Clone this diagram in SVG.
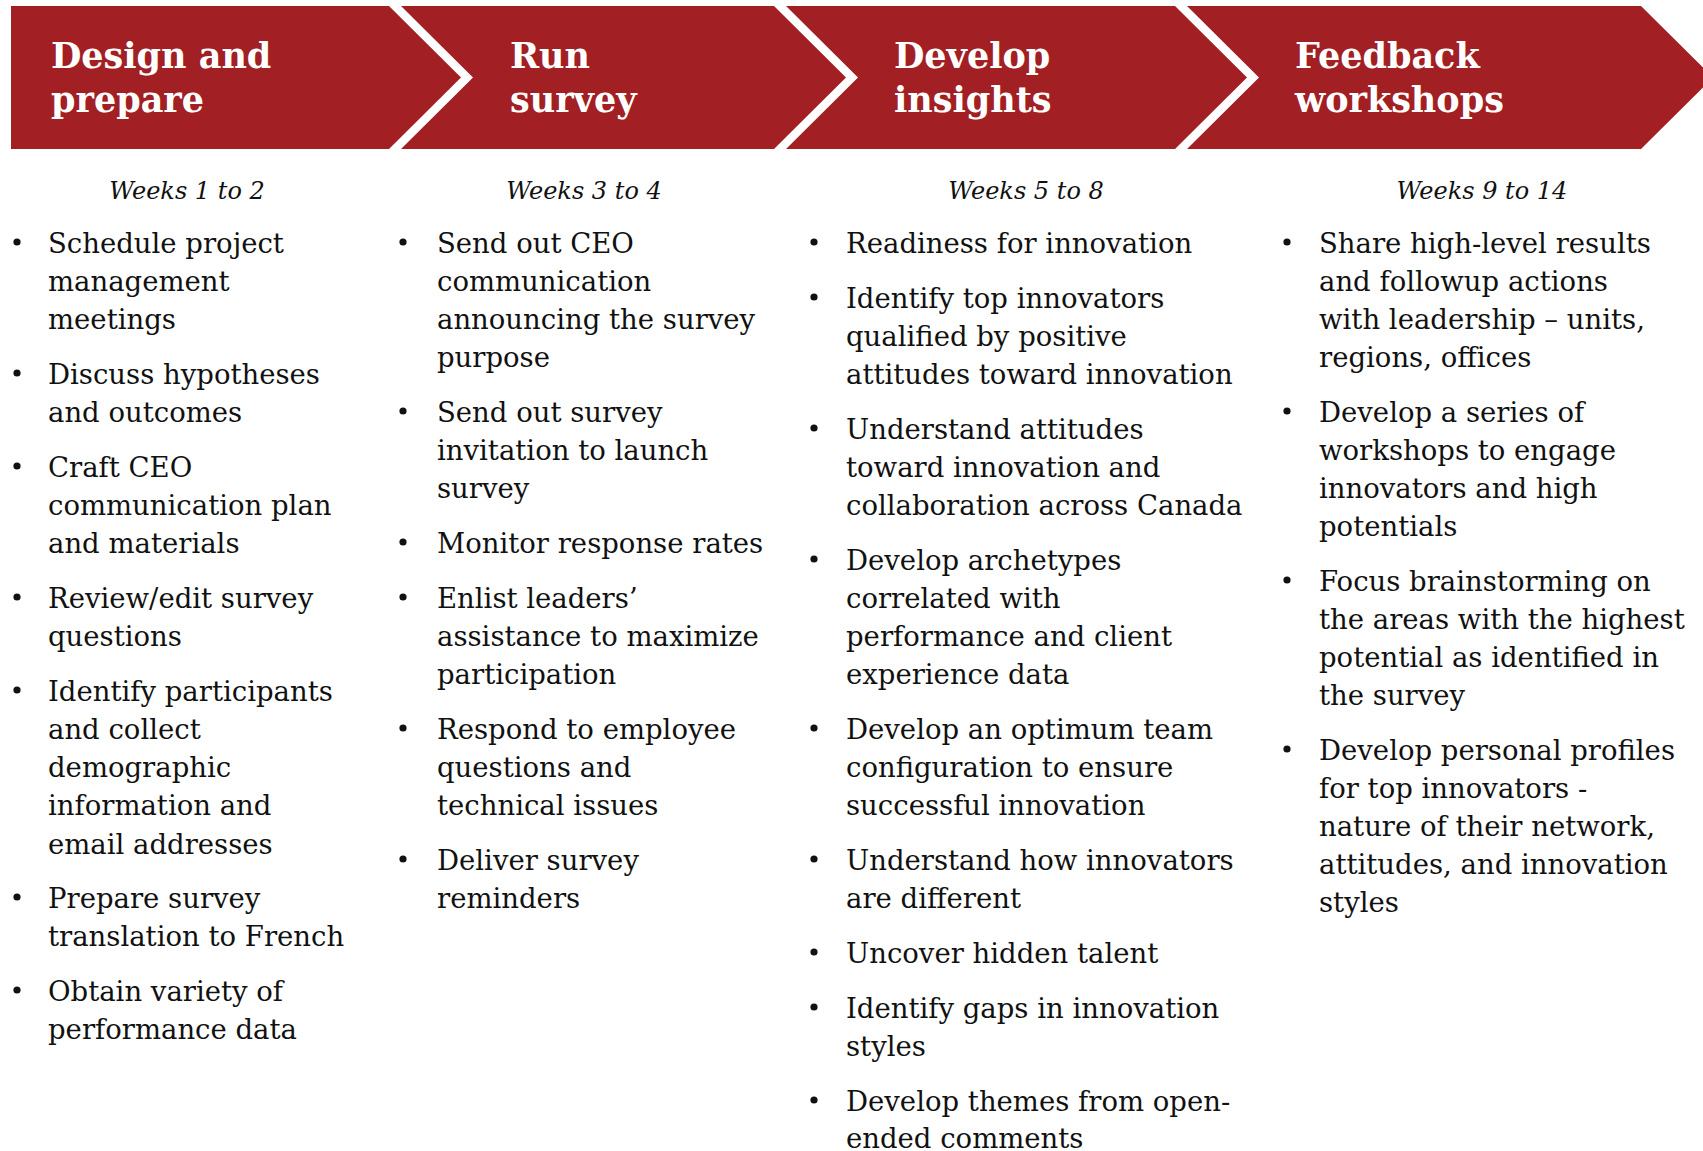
<svg xmlns="http://www.w3.org/2000/svg" width="1703" height="1151" viewBox="0 0 1703 1151">
  <style>
    .chev { fill: #A21F23; }
    .hd { font-family: "DejaVu Serif", "Liberation Serif", serif; font-weight: bold; font-size: 35px; fill: #ffffff; }
    .wk { font-family: "DejaVu Serif", "Liberation Serif", serif; font-style: italic; font-size: 24px; fill: #111111; text-anchor: middle; }
    .tx { font-family: "DejaVu Serif", "Liberation Serif", serif; font-size: 27.5px; fill: #111111; }
    .bl { fill: #111111; }
  </style>
  <rect width="1703" height="1151" fill="#ffffff"/>

  <!-- Phase 1 -->
  <g id="phase-design">
    <path class="chev" d="M11,6 H389 L461,77.5 L389,149 H11 Z"/>
    <text class="hd"><tspan x="51" y="68">Design and</tspan><tspan x="51" y="112">prepare</tspan></text>
    <text class="wk" x="187" y="199">Weeks 1 to 2</text>
    <g class="bl">
      <circle cx="17" cy="242" r="3.6"/><circle cx="17" cy="373" r="3.6"/><circle cx="17" cy="466" r="3.6"/>
      <circle cx="17" cy="597" r="3.6"/><circle cx="17" cy="690" r="3.6"/><circle cx="17" cy="897" r="3.6"/>
      <circle cx="17" cy="990" r="3.6"/>
    </g>
    <text class="tx">
      <tspan x="48" y="253">Schedule project</tspan>
      <tspan x="48" y="291">management</tspan>
      <tspan x="48" y="329">meetings</tspan>
      <tspan x="48" y="384">Discuss hypotheses</tspan>
      <tspan x="48" y="422">and outcomes</tspan>
      <tspan x="48" y="477">Craft CEO</tspan>
      <tspan x="48" y="515">communication plan</tspan>
      <tspan x="48" y="553">and materials</tspan>
      <tspan x="48" y="608">Review/edit survey</tspan>
      <tspan x="48" y="646">questions</tspan>
      <tspan x="48" y="701">Identify participants</tspan>
      <tspan x="48" y="739">and collect</tspan>
      <tspan x="48" y="777">demographic</tspan>
      <tspan x="48" y="815">information and</tspan>
      <tspan x="48" y="854">email addresses</tspan>
      <tspan x="48" y="908">Prepare survey</tspan>
      <tspan x="48" y="946">translation to French</tspan>
      <tspan x="48" y="1001">Obtain variety of</tspan>
      <tspan x="48" y="1039">performance data</tspan>
    </text>
  </g>

  <!-- Phase 2 -->
  <g id="phase-run">
    <path class="chev" d="M401,6 H774 L846,77.5 L774,149 H401 L473,77.5 Z"/>
    <text class="hd"><tspan x="510" y="68">Run</tspan><tspan x="510" y="112">survey</tspan></text>
    <text class="wk" x="584" y="199">Weeks 3 to 4</text>
    <g class="bl">
      <circle cx="403" cy="242" r="3.6"/><circle cx="403" cy="411" r="3.6"/><circle cx="403" cy="542" r="3.6"/>
      <circle cx="403" cy="597" r="3.6"/><circle cx="403" cy="728" r="3.6"/><circle cx="403" cy="859" r="3.6"/>
    </g>
    <text class="tx">
      <tspan x="437" y="253">Send out CEO</tspan>
      <tspan x="437" y="291">communication</tspan>
      <tspan x="437" y="329">announcing the survey</tspan>
      <tspan x="437" y="367">purpose</tspan>
      <tspan x="437" y="422">Send out survey</tspan>
      <tspan x="437" y="460">invitation to launch</tspan>
      <tspan x="437" y="498">survey</tspan>
      <tspan x="437" y="553">Monitor response rates</tspan>
      <tspan x="437" y="608">Enlist leaders’</tspan>
      <tspan x="437" y="646">assistance to maximize</tspan>
      <tspan x="437" y="684">participation</tspan>
      <tspan x="437" y="739">Respond to employee</tspan>
      <tspan x="437" y="777">questions and</tspan>
      <tspan x="437" y="815">technical issues</tspan>
      <tspan x="437" y="870">Deliver survey</tspan>
      <tspan x="437" y="908">reminders</tspan>
    </text>
  </g>

  <!-- Phase 3 -->
  <g id="phase-insights">
    <path class="chev" d="M786,6 H1175 L1247,77.5 L1175,149 H786 L858,77.5 Z"/>
    <text class="hd"><tspan x="894" y="68">Develop</tspan><tspan x="894" y="112">insights</tspan></text>
    <text class="wk" x="1026" y="199">Weeks 5 to 8</text>
    <g class="bl">
      <circle cx="814" cy="242" r="3.6"/><circle cx="814" cy="297" r="3.6"/><circle cx="814" cy="428" r="3.6"/>
      <circle cx="814" cy="559" r="3.6"/><circle cx="814" cy="728" r="3.6"/><circle cx="814" cy="859" r="3.6"/>
      <circle cx="814" cy="952" r="3.6"/><circle cx="814" cy="1007" r="3.6"/><circle cx="814" cy="1100" r="3.6"/>
    </g>
    <text class="tx">
      <tspan x="846" y="253">Readiness for innovation</tspan>
      <tspan x="846" y="308">Identify top innovators</tspan>
      <tspan x="846" y="346">qualified by positive</tspan>
      <tspan x="846" y="384">attitudes toward innovation</tspan>
      <tspan x="846" y="439">Understand attitudes</tspan>
      <tspan x="846" y="477">toward innovation and</tspan>
      <tspan x="846" y="515">collaboration across Canada</tspan>
      <tspan x="846" y="570">Develop archetypes</tspan>
      <tspan x="846" y="608">correlated with</tspan>
      <tspan x="846" y="646">performance and client</tspan>
      <tspan x="846" y="684">experience data</tspan>
      <tspan x="846" y="739">Develop an optimum team</tspan>
      <tspan x="846" y="777">configuration to ensure</tspan>
      <tspan x="846" y="815">successful innovation</tspan>
      <tspan x="846" y="870">Understand how innovators</tspan>
      <tspan x="846" y="908">are different</tspan>
      <tspan x="846" y="963">Uncover hidden talent</tspan>
      <tspan x="846" y="1018">Identify gaps in innovation</tspan>
      <tspan x="846" y="1056">styles</tspan>
      <tspan x="846" y="1111">Develop themes from open-</tspan>
      <tspan x="846" y="1148">ended comments</tspan>
    </text>
  </g>

  <!-- Phase 4 -->
  <g id="phase-feedback">
    <path class="chev" d="M1187,6 H1641 L1713,77.5 L1641,149 H1187 L1259,77.5 Z"/>
    <text class="hd"><tspan x="1295" y="68">Feedback</tspan><tspan x="1295" y="112">workshops</tspan></text>
    <text class="wk" x="1482" y="199">Weeks 9 to 14</text>
    <g class="bl">
      <circle cx="1287" cy="242" r="3.6"/><circle cx="1287" cy="411" r="3.6"/><circle cx="1287" cy="580" r="3.6"/>
      <circle cx="1287" cy="749" r="3.6"/>
    </g>
    <text class="tx">
      <tspan x="1319" y="253">Share high-level results</tspan>
      <tspan x="1319" y="291">and followup actions</tspan>
      <tspan x="1319" y="329">with leadership – units,</tspan>
      <tspan x="1319" y="367">regions, offices</tspan>
      <tspan x="1319" y="422">Develop a series of</tspan>
      <tspan x="1319" y="460">workshops to engage</tspan>
      <tspan x="1319" y="498">innovators and high</tspan>
      <tspan x="1319" y="536">potentials</tspan>
      <tspan x="1319" y="591">Focus brainstorming on</tspan>
      <tspan x="1319" y="629">the areas with the highest</tspan>
      <tspan x="1319" y="667">potential as identified in</tspan>
      <tspan x="1319" y="705">the survey</tspan>
      <tspan x="1319" y="760">Develop personal profiles</tspan>
      <tspan x="1319" y="798">for top innovators -</tspan>
      <tspan x="1319" y="836">nature of their network,</tspan>
      <tspan x="1319" y="874">attitudes, and innovation</tspan>
      <tspan x="1319" y="912">styles</tspan>
    </text>
  </g>
</svg>
